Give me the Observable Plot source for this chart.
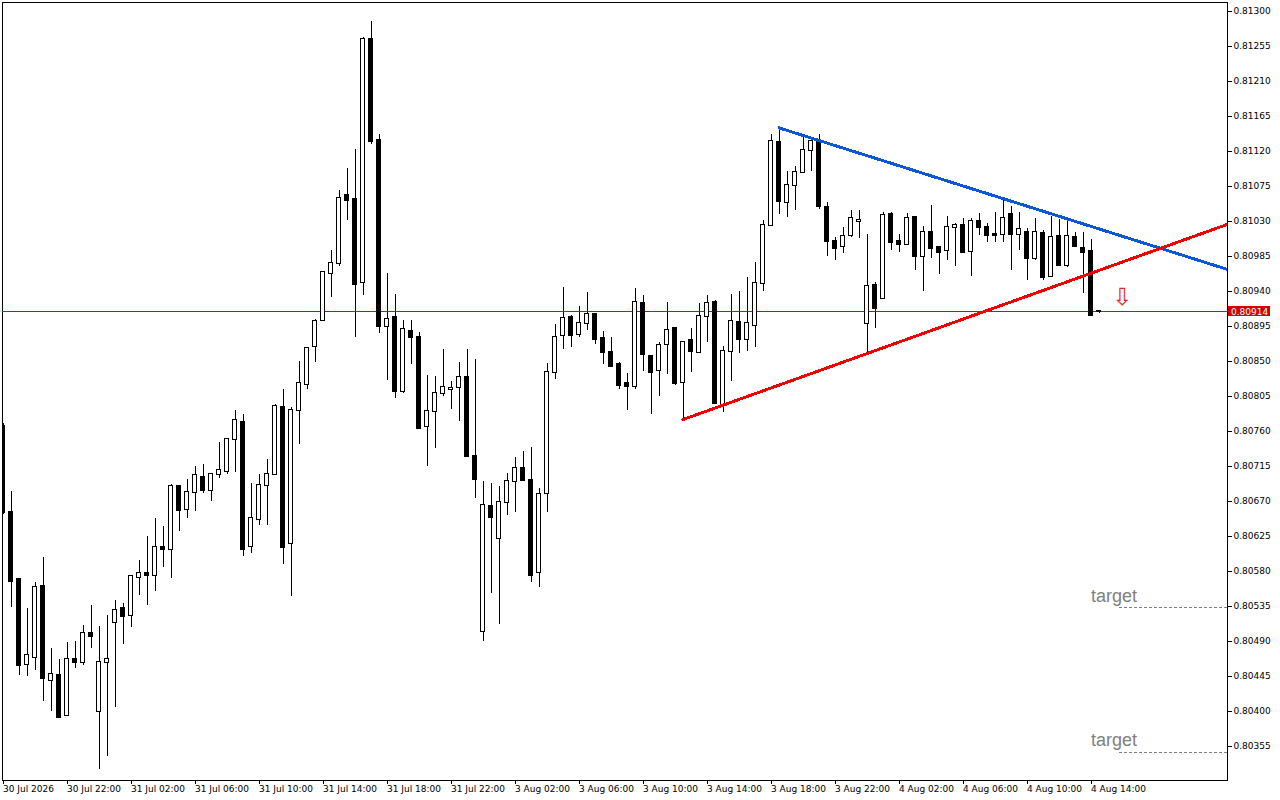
<!DOCTYPE html>
<html><head><meta charset="utf-8">
<script src="https://cdn.jsdelivr.net/npm/d3@7"></script>
<script src="https://cdn.jsdelivr.net/npm/@observablehq/plot@0.6"></script>
<style>html,body{margin:0;padding:0;background:#fff;overflow:hidden}</style>
</head><body><div id="chart"></div>
<script>
// 30-minute candles, index 0 = 30 Jul 2026 18:00
const openP = [
0.80766,0.80655,0.80569,0.80460,0.80469,0.80560,0.80440,0.80446,0.80394,0.80466,
0.80462,0.80500,0.80399,0.80462,0.80514,0.80532,0.80523,0.80572,0.80577,0.80575,
0.80611,0.80608,0.80689,0.80659,0.80681,0.80701,0.80684,0.80704,0.80708,0.80749,
0.80771,0.80612,0.80647,0.80690,0.80704,0.80790,0.80616,0.80786,0.80820,0.80869,
0.80902,0.80963,0.80975,0.81063,0.81058,0.80951,0.81264,0.81134,0.80895,0.80906,
0.80811,0.80888,0.80880,0.80766,0.80785,0.80808,0.80814,0.80816,0.80829,0.80728,
0.80502,0.80663,0.80622,0.80668,0.80695,0.80712,0.80696,0.80578,0.80680,0.80835,
0.80883,0.80906,0.80884,0.80898,0.80910,0.80879,0.80861,0.80846,0.80821,0.80817,
0.80924,0.80856,0.80838,0.80871,0.80892,0.80823,0.80877,0.80861,0.80908,0.80925,
0.80793,0.80862,0.80900,0.80878,0.80896,0.80950,0.81025,0.81131,0.81054,0.81076,
0.81093,0.81121,0.81131,0.81047,0.81004,0.80998,0.81011,0.81030,0.80899,0.80947,
0.80931,0.81038,0.81004,0.81000,0.81035,0.80984,0.81015,0.80996,0.80992,0.81022,
0.81024,0.80991,0.81030,0.81022,0.81013,0.81013,0.81038,0.81013,0.81015,0.80982,
0.81014,0.80959,0.81010,0.80973,0.81009,0.80995,0.80991,0.80914];
const highP = [
0.80770,0.80682,0.80569,0.80532,0.80565,0.80598,0.80481,0.80466,0.80488,0.80490,
0.80510,0.80536,0.80509,0.80523,0.80542,0.80538,0.80574,0.80594,0.80624,0.80648,
0.80637,0.80691,0.80689,0.80698,0.80714,0.80717,0.80705,0.80745,0.80750,0.80786,
0.80781,0.80693,0.80704,0.80724,0.80794,0.80813,0.80790,0.80849,0.80866,0.80904,
0.80964,0.80992,0.81070,0.81098,0.81122,0.81266,0.81287,0.81142,0.80963,0.80936,
0.80902,0.80902,0.80887,0.80832,0.80830,0.80865,0.80824,0.80848,0.80865,0.80852,
0.80695,0.80693,0.80689,0.80706,0.80726,0.80734,0.80739,0.80686,0.80847,0.80897,
0.80945,0.80909,0.80920,0.80938,0.80911,0.80888,0.80880,0.80848,0.80834,0.80943,
0.80934,0.80857,0.80874,0.80925,0.80892,0.80874,0.80892,0.80924,0.80934,0.80928,
0.80869,0.80936,0.80939,0.80957,0.80977,0.81031,0.81141,0.81148,0.81094,0.81100,
0.81137,0.81136,0.81142,0.81054,0.81009,0.81022,0.81044,0.81044,0.81013,0.80951,
0.81041,0.81041,0.81013,0.81040,0.81035,0.81023,0.81050,0.80996,0.81036,0.81027,
0.81033,0.81033,0.81040,0.81027,0.81041,0.81058,0.81049,0.81041,0.81020,0.81033,
0.81018,0.81036,0.81032,0.81030,0.81015,0.81015,0.81006,0.80915];
const lowP = [
0.80653,0.80533,0.80446,0.80445,0.80452,0.80413,0.80400,0.80391,0.80394,0.80455,
0.80459,0.80481,0.80325,0.80342,0.80405,0.80486,0.80508,0.80549,0.80536,0.80554,
0.80585,0.80570,0.80631,0.80648,0.80657,0.80680,0.80670,0.80699,0.80704,0.80707,
0.80599,0.80603,0.80639,0.80639,0.80704,0.80588,0.80548,0.80743,0.80813,0.80848,
0.80902,0.80932,0.80972,0.81031,0.80880,0.80935,0.81129,0.80885,0.80825,0.80802,
0.80808,0.80846,0.80763,0.80715,0.80738,0.80805,0.80788,0.80772,0.80727,0.80673,
0.80490,0.80551,0.80511,0.80652,0.80655,0.80695,0.80565,0.80559,0.80655,0.80826,
0.80865,0.80867,0.80880,0.80890,0.80872,0.80846,0.80843,0.80813,0.80786,0.80814,
0.80837,0.80781,0.80804,0.80833,0.80819,0.80775,0.80835,0.80861,0.80874,0.80796,
0.80784,0.80824,0.80860,0.80862,0.80868,0.80940,0.81025,0.81038,0.81035,0.81044,
0.81092,0.81094,0.81045,0.80985,0.80979,0.80989,0.81009,0.81008,0.80860,0.80892,
0.80930,0.80992,0.80990,0.80999,0.80967,0.80940,0.80982,0.80961,0.80979,0.80972,
0.80990,0.80959,0.81011,0.81003,0.81003,0.81003,0.80967,0.80992,0.80954,0.80979,
0.80954,0.80959,0.80973,0.80971,0.80998,0.80937,0.80909,0.80911];
const closeP = [
0.80655,0.80567,0.80459,0.80471,0.80559,0.80442,0.80447,0.80392,0.80466,0.80463,
0.80500,0.80496,0.80462,0.80466,0.80530,0.80522,0.80573,0.80577,0.80574,0.80610,
0.80608,0.80689,0.80658,0.80681,0.80703,0.80684,0.80704,0.80710,0.80749,0.80774,
0.80608,0.80648,0.80690,0.80704,0.80792,0.80610,0.80787,0.80821,0.80866,0.80901,
0.80964,0.80976,0.81059,0.81057,0.80948,0.81264,0.81133,0.80895,0.80904,0.80811,
0.80891,0.80881,0.80763,0.80785,0.80808,0.80816,0.80815,0.80829,0.80728,0.80698,
0.80664,0.80649,0.80668,0.80695,0.80712,0.80697,0.80575,0.80679,0.80835,0.80881,
0.80905,0.80883,0.80898,0.80910,0.80878,0.80861,0.80843,0.80819,0.80818,0.80925,
0.80859,0.80836,0.80870,0.80890,0.80821,0.80874,0.80862,0.80907,0.80924,0.80796,
0.80862,0.80901,0.80878,0.80899,0.80950,0.81024,0.81133,0.81055,0.81076,0.81093,
0.81121,0.81132,0.81049,0.81004,0.80995,0.81010,0.81033,0.81031,0.80946,0.80918,
0.81037,0.81003,0.81000,0.81034,0.80984,0.81015,0.80995,0.80990,0.81022,0.81024,
0.80990,0.81030,0.81022,0.81011,0.81011,0.81033,0.81013,0.81019,0.80982,0.81015,
0.80958,0.81009,0.80973,0.81010,0.80998,0.80990,0.80909,0.80914];

const priceTicks = [0.81300,0.81255,0.81210,0.81165,0.81120,0.81075,0.81030,0.80985,0.80940,0.80895,0.80850,
  0.80805,0.80760,0.80715,0.80670,0.80625,0.80580,0.80535,0.80490,0.80445,0.80400,0.80355];
const timeTicks = [0,8,16,24,32,40,48,56,64,72,80,88,96,104,112,120,128,136];
const timeLabels = ["30 Jul 2026","30 Jul 22:00","31 Jul 02:00","31 Jul 06:00","31 Jul 10:00","31 Jul 14:00",
  "31 Jul 18:00","31 Jul 22:00","3 Aug 02:00","3 Aug 06:00","3 Aug 10:00","3 Aug 14:00","3 Aug 18:00",
  "3 Aug 22:00","4 Aug 02:00","4 Aug 06:00","4 Aug 10:00","4 Aug 14:00"];

const currentPrice = 0.80914;
// trend lines: [start index, end index], [start price, end price]
const blueIdx = [97, 153.06];
const bluePrice = [0.81150, 0.80968];
const redIdx = [85, 153.06];
const redPrice = [0.80775, 0.81026];
// targets
const targetPrices = [0.80533, 0.80347];
const targetLabels = ["target", "target"];
const targetTextIdx = 136;
const targetLineIdx = [139.5, 153];
// arrow
const arrowIdx = 139.9;
const arrowPrice = 0.80932;

const candles = openP.map((o, i) => ({i, open: o, high: highP[i], low: lowP[i], close: closeP[i]}));
const bulls = candles.filter(d => d.close >= d.open);
const bears = candles.filter(d => d.close < d.open);
const blueLine = blueIdx.map((x, k) => ({x, p: bluePrice[k]}));
const redLine = redIdx.map((x, k) => ({x, p: redPrice[k]}));
const targetSegs = targetPrices.map((p, k) => ({x1: targetLineIdx[0], x2: targetLineIdx[1], p, label: targetLabels[k]}));

const crisp = "crispEdges";
const chart = Plot.plot({
  width: 1280, height: 800,
  marginLeft: 2, marginRight: 53, marginTop: 2, marginBottom: 20,
  style: {fontFamily: "DejaVu Sans", fontSize: "9px", background: "white", color: "black"},
  x: {domain: [-0.0625, 153.0625], axis: null},
  y: {domain: [0.803109, 0.813112], axis: null},
  marks: [
    Plot.frame({stroke: "black", shapeRendering: crisp}),
    Plot.axisY(priceTicks, {anchor: "right", tickSize: 4, tickPadding: 2, tickFormat: d3.format(".5f"), fontSize: 9, shapeRendering: crisp}),
    Plot.axisX(timeTicks, {anchor: "bottom", tickSize: 4, tickPadding: 1, textAnchor: "start", dx: 0,
      tickFormat: d => timeLabels[timeTicks.indexOf(d)], fontSize: 9, shapeRendering: crisp}),
    Plot.ruleY([currentPrice], {stroke: "#e60000", strokeWidth: 1, shapeRendering: crisp}),
    Plot.ruleX(candles, {x: "i", y1: "low", y2: "high", stroke: "black", strokeWidth: 1, shapeRendering: crisp, clip: true}),
    Plot.rect(bulls, {x1: d => d.i - 0.25, x2: d => d.i + 0.25, y1: "open", y2: "close",
      fill: "white", stroke: "black", strokeWidth: 1, insetTop: -0.5, insetBottom: -0.5, shapeRendering: crisp, clip: true}),
    Plot.rect(bears, {x1: d => d.i - 0.25, x2: d => d.i + 0.25, y1: "open", y2: "close",
      fill: "black", stroke: "black", strokeWidth: 1, insetTop: -0.5, insetBottom: -0.5, shapeRendering: crisp, clip: true}),
    Plot.line(blueLine, {x: "x", y: "p", stroke: "#0b57d8", strokeWidth: 3, clip: true, shapeRendering: crisp}),
    Plot.line(redLine, {x: "x", y: "p", stroke: "#f20000", strokeWidth: 3, clip: true, shapeRendering: crisp}),
    Plot.link(targetSegs, {x1: "x1", x2: "x2", y1: "p", y2: "p", stroke: "#808080", strokeWidth: 1, strokeDasharray: "3,2", shapeRendering: crisp}),
    Plot.text(targetSegs, {x: () => targetTextIdx, y: "p", text: "label", textAnchor: "start", fill: "#808080",
      fontSize: 18, fontFamily: "Liberation Sans", dy: -12}),
    Plot.text([arrowPrice], {x: () => arrowIdx, y: d => d, text: () => "\u21E9", fill: "#e8281e",
      fontSize: 24, fontFamily: "DejaVu Sans"})
  ]
});
document.getElementById("chart").appendChild(chart);

// current price label box on the right axis
const yPos = chart.scale("y").apply(currentPrice);
const g = d3.select(chart).append("g");
g.append("rect").attr("x", 1228).attr("y", Math.round(yPos) - 5).attr("width", 42).attr("height", 10)
  .attr("fill", "#d40000").attr("shape-rendering", "crispEdges");
g.append("text").attr("x", 1231).attr("y", Math.round(yPos) + 3.5).attr("fill", "white")
  .attr("text-anchor", "start").attr("font-family", "DejaVu Sans").attr("font-size", 9)
  .text(d3.format(".5f")(currentPrice));
</script></body></html>
